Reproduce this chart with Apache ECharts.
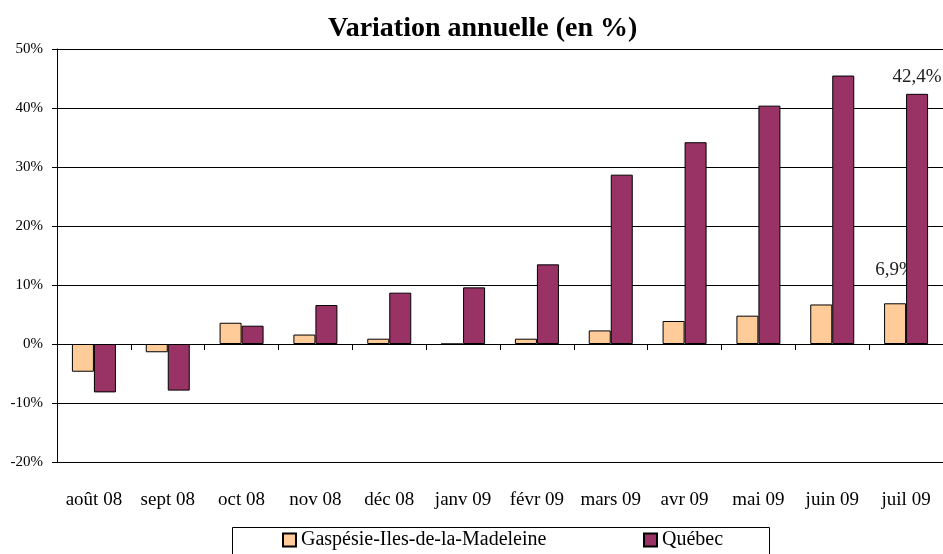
<!DOCTYPE html>
<html><head><meta charset="utf-8">
<script src="https://cdn.jsdelivr.net/npm/echarts@6/dist/echarts.min.js"></script>
<style>html,body{margin:0;padding:0;background:#fff}#c{width:943px;height:554px}</style>
</head><body><div id="c"></div>
<script>
const categories = ['août 08','sept 08','oct 08','nov 08','déc 08','janv 09','févr 09','mars 09','avr 09','mai 09','juin 09','juil 09'];
const gaspesie = [-4.7,-1.4,3.6,1.6,0.9,0.0,0.9,2.3,3.9,4.8,6.7,6.9];
const quebec = [-8.2,-7.9,3.1,6.6,8.7,9.6,13.5,28.7,34.2,40.4,45.5,42.4];
const seriesNames = ['Gaspésie-Iles-de-la-Madeleine','Québec'];
const yTicks = {min:-20,max:50,interval:10};

const font = 'Liberation Serif, Times New Roman, serif';
const chart = echarts.init(document.getElementById('c'), null, {renderer:'canvas'});
const last = categories.length - 1;
function withLabel(arr, dist){
  return arr.map((v,i)=> i===last ? {value:v,label:{show:true,position:'top',distance:dist,
    formatter:(p)=>p.value.toFixed(1).replace('.',',')+'%',fontFamily:font,fontSize:19,color:'#222'}} : v);
}
const legendText = {fontFamily:font,fontSize:20,color:'#000'};
chart.setOption({
  animation:false,
  backgroundColor:'#fff',
  title:{text:'Variation annuelle (en %)',left:323,top:10,
    textStyle:{fontFamily:font,fontSize:28,fontWeight:'bold',color:'#000'}},
  grid:{left:57,right:0,top:49,bottom:92,containLabel:false},
  legend:[
    {data:[seriesNames[0]],left:277,top:525,itemWidth:13,itemHeight:13,itemGap:5,
      textStyle:legendText,icon:'rect'},
    {data:[seriesNames[1]],left:638,top:525,itemWidth:13,itemHeight:13,itemGap:5,
      textStyle:legendText,icon:'rect'}
  ],
  graphic:[{type:'rect',shape:{x:232.5,y:527.5,width:537,height:40},
    style:{fill:'none',stroke:'#000',lineWidth:1},silent:true}],
  xAxis:[
    {type:'category',data:categories,position:'bottom',
      axisLine:{show:false,onZero:false},axisTick:{show:false},
      axisLabel:{margin:29,fontFamily:font,fontSize:19,color:'#000',interval:0},
      splitLine:{show:false}},
    {type:'category',data:categories,position:'top',
      axisLine:{show:true,onZero:true,lineStyle:{color:'#000',width:1}},
      axisTick:{show:true,inside:true,length:6,lineStyle:{color:'#000'}},
      axisLabel:{show:false},splitLine:{show:false}}
  ],
  yAxis:{type:'value',min:yTicks.min,max:yTicks.max,interval:yTicks.interval,
    axisLine:{show:true,lineStyle:{color:'#000'}},
    axisTick:{show:true,length:5,lineStyle:{color:'#000'}},
    axisLabel:{formatter:v=>v+'%',fontFamily:font,fontSize:15,color:'#000',margin:14},
    splitLine:{show:true,lineStyle:{color:'#000',width:1}}},
  series:[
    {name:seriesNames[0],type:'bar',xAxisIndex:0,z:2,data:withLabel(gaspesie,24),barWidth:22,barGap:'0%',
      itemStyle:{color:'#FFCC99',borderColor:'#000',borderWidth:1}},
    {name:seriesNames[1],type:'bar',xAxisIndex:0,z:3,data:withLabel(quebec,7),barWidth:22,barGap:'0%',
      itemStyle:{color:'#993366',borderColor:'#000',borderWidth:1}}
  ]
});
</script></body></html>
